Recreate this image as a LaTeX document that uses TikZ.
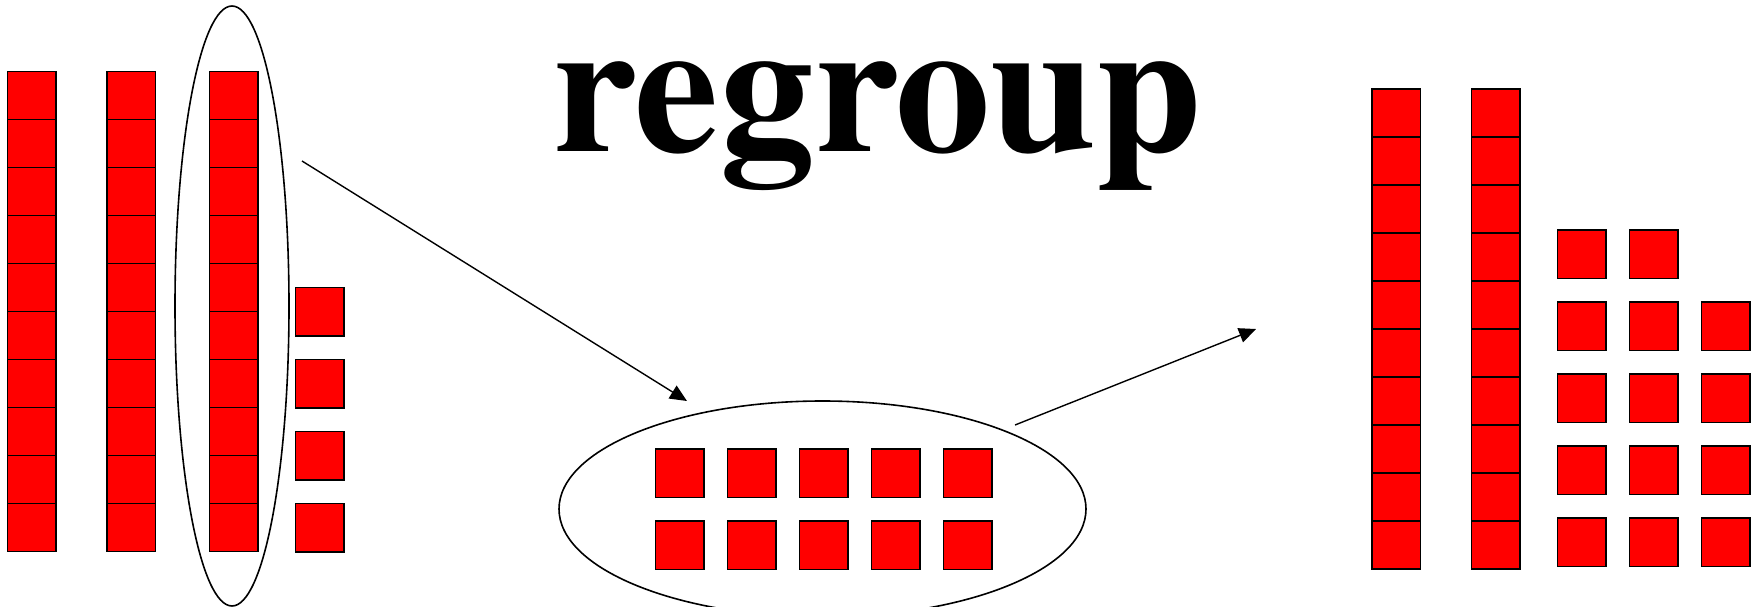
\documentclass[tikz,border=0pt]{standalone}
\usepackage{fontspec}
\setmainfont{Liberation Serif}
\newfontfamily\titlefont{texgyretermes-bold}[Extension=.otf]
\usetikzlibrary{arrows.meta,shapes.geometric}
\begin{document}
\begin{tikzpicture}[x=1pt,y=-1pt,
  cell/.style={draw=black, fill=red, line width=1.5pt, minimum width=48.5pt, minimum height=48pt, inner sep=0pt, outer sep=0pt},
  unit/.style={draw=black, fill=red, line width=1.5pt, minimum size=48.5pt, inner sep=0pt, outer sep=0pt},
  loop/.style={draw=black, line width=1.6pt, ellipse, inner sep=0pt, outer sep=0pt},
  conn/.style={draw=black, line width=1.4pt, -{Triangle[length=17pt,width=15pt]}},
  title/.style={font=\titlefont\fontsize{190}{190}\selectfont, inner sep=0pt, anchor=base}]
\useasboundingbox (0,0) rectangle (1756,607);
% left group: three tens and four ones
\node[loop, minimum width=114pt, minimum height=600pt] (grp) at (232,306) {};
\foreach \c/\x in {1/31.7, 2/131.2, 3/233.7}{
  \foreach \k in {0,...,9}{
    \node[cell] (L\c-\k) at (\x, 95.6+48*\k) {};
  }
}
\foreach \k in {0,...,3}{
  \node[unit] (S\k) at (319.5, 311.9+72*\k) {};
}
% title
\node[title] (ttl) at (877,151) {regroup};
% middle group: ten ones in an ellipse
\node[loop, minimum width=527pt, minimum height=216pt] (mid) at (822.5,509) {};
\foreach \r/\y in {0/473, 1/545}{
  \foreach \k in {0,...,4}{
    \node[unit] (M\r-\k) at (679.5+72*\k, \y) {};
  }
}
% right group: two tens and fourteen ones
\foreach \c/\x in {1/1396, 2/1495.6}{
  \foreach \k in {0,...,9}{
    \node[cell] (R\c-\k) at (\x, 113+48*\k) {};
  }
}
\node[unit] (Q0-0) at (1581.5,254.2) {};
\node[unit] (Q0-1) at (1653.5,254.2) {};
\foreach \r in {1,...,4}{
  \foreach \k in {0,1,2}{
    \node[unit] (Q\r-\k) at (1581.5+72*\k, 254.2+72*\r) {};
  }
}
% arrows
\coordinate (a1s) at (302,161);
\coordinate (a1e) at (687,401);
\coordinate (a2s) at (1015,425);
\coordinate (a2e) at (1256,329);
\draw[conn] (a1s) -- (a1e);
\draw[conn] (a2s) -- (a2e);
\end{tikzpicture}
\end{document}
